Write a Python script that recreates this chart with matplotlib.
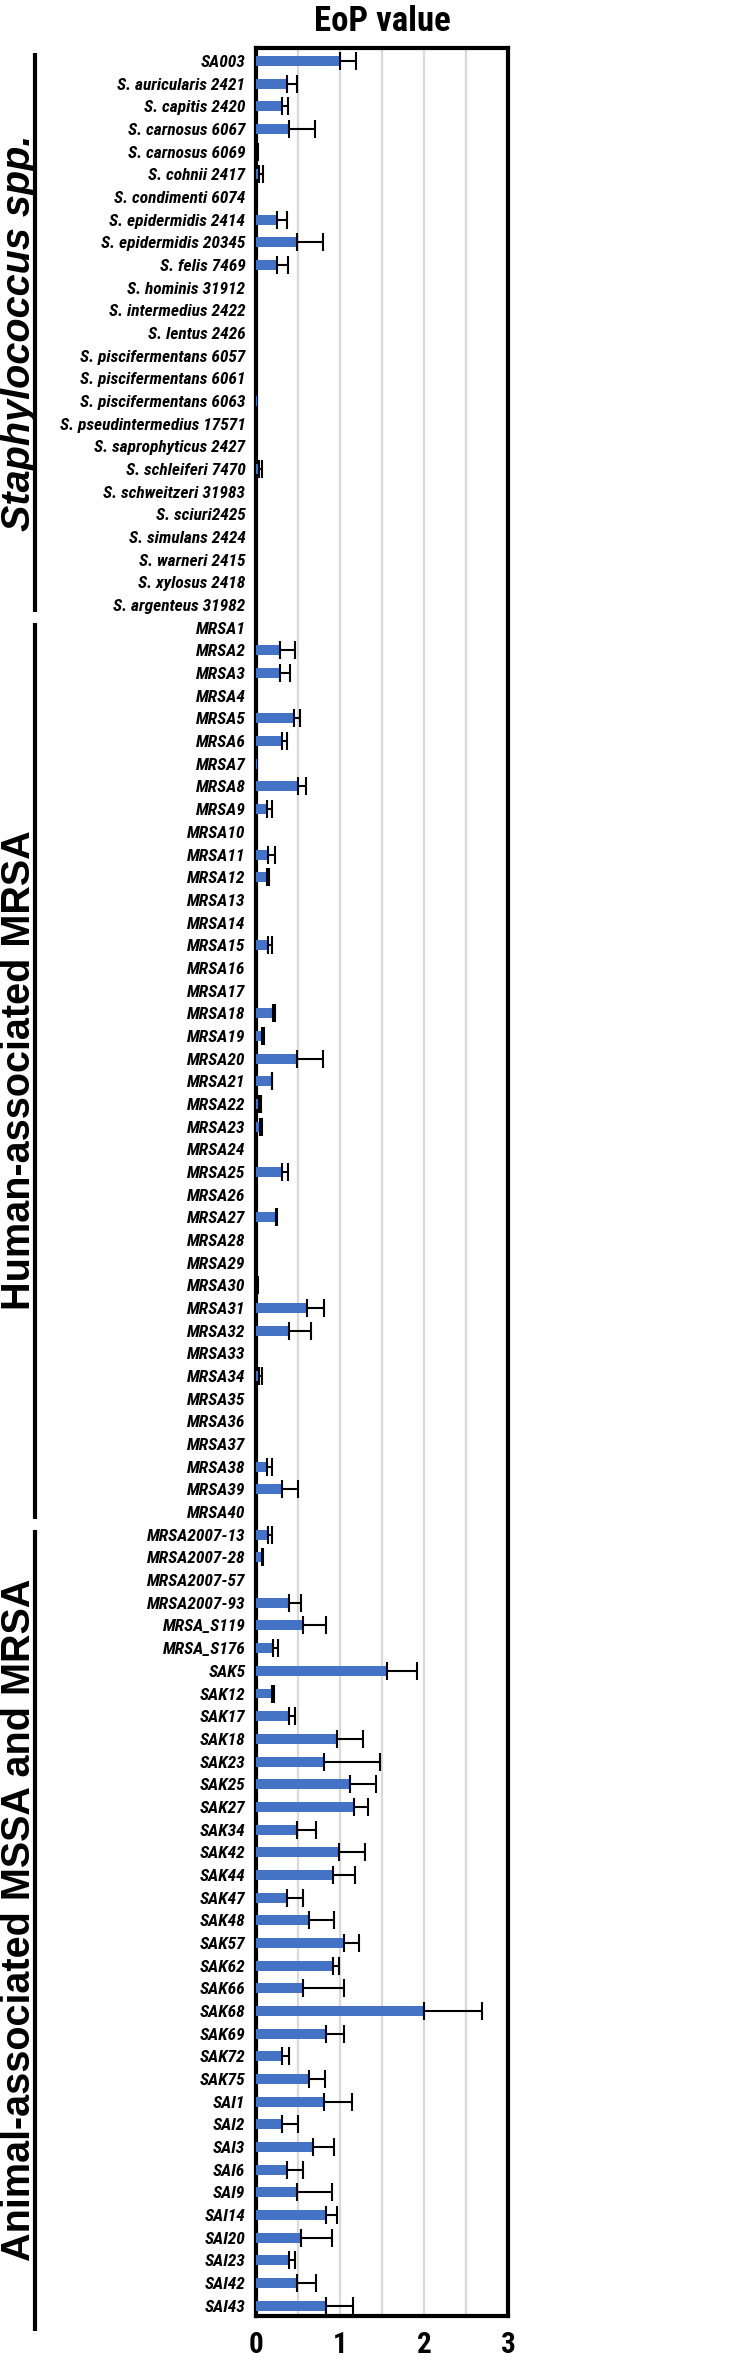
import numpy as np
import matplotlib
matplotlib.use('Agg')
import matplotlib.pyplot as plt
from matplotlib import font_manager as fm
from matplotlib.font_manager import FontProperties
from matplotlib.transforms import blended_transform_factory

staph_strains = ['SA003', 'S. auricularis 2421', 'S. capitis 2420', 'S. carnosus 6067',
                 'S. carnosus 6069', 'S. cohnii 2417', 'S. condimenti 6074',
                 'S. epidermidis 2414', 'S. epidermidis 20345', 'S. felis 7469',
                 'S. hominis 31912', 'S. intermedius 2422', 'S. lentus 2426',
                 'S. piscifermentans 6057', 'S. piscifermentans 6061', 'S. piscifermentans 6063',
                 'S. pseudintermedius 17571', 'S. saprophyticus 2427', 'S. schleiferi 7470',
                 'S. schweitzeri 31983', 'S. sciuri2425', 'S. simulans 2424',
                 'S. warneri 2415', 'S. xylosus 2418', 'S. argenteus 31982']
staph_eop = [1.00, 0.36, 0.31, 0.39, 0.01, 0.03, 0, 0.25, 0.48, 0.25,
             0, 0, 0, 0, 0, 0.01, 0, 0, 0.03, 0, 0, 0, 0, 0, 0]
staph_err = [0.19, 0.12, 0.07, 0.31, 0.01, 0.05, 0, 0.11, 0.31, 0.13,
             0, 0, 0, 0, 0, 0, 0, 0, 0.04, 0, 0, 0, 0, 0, 0]

human_strains = ['MRSA%d' % i for i in range(1, 41)]
human_eop = [0, 0.28, 0.28, 0, 0.45, 0.31, 0.01, 0.49, 0.12, 0,
             0.14, 0.12, 0, 0, 0.14, 0, 0, 0.20, 0.06, 0.48,
             0.18, 0.03, 0.04, 0, 0.31, 0, 0.23, 0, 0, 0.01,
             0.60, 0.39, 0, 0.03, 0, 0, 0, 0.12, 0.31, 0]
human_err = [0, 0.18, 0.12, 0, 0.07, 0.05, 0, 0.10, 0.07, 0,
             0.08, 0.03, 0, 0, 0.05, 0, 0, 0.02, 0.03, 0.31,
             0.01, 0.02, 0.03, 0, 0.06, 0, 0.02, 0, 0, 0.01,
             0.20, 0.26, 0, 0.03, 0, 0, 0, 0.07, 0.19, 0]

animal_strains = ['MRSA2007-13', 'MRSA2007-28', 'MRSA2007-57', 'MRSA2007-93',
                  'MRSA_S119', 'MRSA_S176', 'SAK5', 'SAK12', 'SAK17', 'SAK18',
                  'SAK23', 'SAK25', 'SAK27', 'SAK34', 'SAK42', 'SAK44', 'SAK47',
                  'SAK48', 'SAK57', 'SAK62', 'SAK66', 'SAK68', 'SAK69', 'SAK72',
                  'SAK75', 'SAI1', 'SAI2', 'SAI3', 'SAI6', 'SAI9', 'SAI14',
                  'SAI20', 'SAI23', 'SAI42', 'SAI43']
animal_eop = [0.14, 0.06, 0, 0.39, 0.55, 0.20, 1.56, 0.18, 0.39, 0.96,
              0.80, 1.12, 1.16, 0.48, 0.99, 0.91, 0.36, 0.63, 1.04, 0.91,
              0.55, 2.00, 0.83, 0.31, 0.63, 0.80, 0.31, 0.67, 0.36, 0.48,
              0.83, 0.53, 0.39, 0.48, 0.83]
animal_err = [0.05, 0.02, 0, 0.14, 0.28, 0.06, 0.35, 0.03, 0.07, 0.31,
              0.67, 0.30, 0.17, 0.23, 0.31, 0.26, 0.20, 0.30, 0.18, 0.07,
              0.49, 0.69, 0.21, 0.08, 0.19, 0.34, 0.19, 0.25, 0.20, 0.42,
              0.13, 0.37, 0.07, 0.23, 0.32]

group_names = ['Staphylococcus spp.', 'Human-associated MRSA', 'Animal-associated MSSA and MRSA']
group_italic = [True, False, False]

x_ticks = [0, 1, 2, 3]

strains = staph_strains + human_strains + animal_strains
eop = np.array(staph_eop + human_eop + animal_eop)
err = np.array(staph_err + human_err + animal_err)
group_sizes = [len(staph_strains), len(human_strains), len(animal_strains)]


def has_bold_italic(name):
    for f in fm.fontManager.ttflist:
        if f.name == name and f.style == 'italic':
            w = f.weight if isinstance(f.weight, int) else 700 if 'bold' in str(f.weight) else 400
            if w >= 600:
                return True
    return False


# narrow face for the labels (the reference looks like Arial Narrow)
narrow = 'Liberation Sans'
for cand in ['Liberation Sans Narrow', 'Arial Narrow', 'Roboto Condensed', 'Archivo Narrow',
             'PT Sans Narrow', 'IBM Plex Sans Condensed', 'Fira Sans Condensed']:
    if has_bold_italic(cand):
        narrow = cand
        break
wide = 'Liberation Sans'

fig = plt.figure(figsize=(7.4, 23.62), dpi=100)
renderer = fig.canvas.get_renderer()


def fit_size(text, style, target_px, max_pt):
    fp = FontProperties(family=narrow, weight='bold', style=style, size=20)
    t = fig.text(0, 0, text, fontproperties=fp)
    w = t.get_window_extent(renderer).width
    t.remove()
    return min(20 * target_px / w, max_pt)


lab_size = fit_size('S. pseudintermedius 17571', 'italic', 186, 13.4)
title_size = fit_size('EoP value', 'normal', 138, 25)
tick_size = 21

ax = fig.add_axes([0.3466, 0.0195, 0.3399, 0.9602])

y = np.arange(len(strains))
ax.barh(y, eop, height=0.44, color='#4472C4', zorder=3)
m = err > 0
ax.errorbar(eop[m], y[m], xerr=[np.zeros(m.sum()), err[m]], fmt='none',
            ecolor='black', elinewidth=1.5, capsize=6.8, capthick=1.5, zorder=4)

ax.set_xlim(0, 3)
ax.set_ylim(99.45, -0.57)
ax.set_xticks(x_ticks)
ax.set_xticks([0.5, 1.5, 2.5], minor=True)
ax.grid(True, axis='x', which='both', color='#d9d9d9', linewidth=1.6, zorder=0)
ax.set_axisbelow(True)
ax.set_yticks(y)
ax.set_yticklabels(strains, fontfamily=narrow, fontweight='bold', fontstyle='italic',
                   fontsize=lab_size)
ax.set_xticklabels([str(t) for t in x_ticks], fontfamily=narrow, fontweight='bold',
                   fontsize=tick_size)
ax.tick_params(axis='y', length=0, pad=8)
ax.tick_params(axis='x', which='both', length=0, pad=11)
for s in ax.spines.values():
    s.set_linewidth(3)

ax.set_title('EoP value', fontfamily=narrow, fontweight='bold', fontsize=title_size, pad=12)

# group brackets on the left
tr = blended_transform_factory(fig.transFigure, ax.transData)
start = 0
for i, (name, n) in enumerate(zip(group_names, group_sizes)):
    first, last = start, start + n - 1
    y0 = first - 0.35 if i == 0 else first - 0.2
    y1 = last + 1.1 if i == len(group_sizes) - 1 else last + 0.3
    ax.plot([0.0473, 0.0473], [y0, y1], color='black', linewidth=3, transform=tr,
            clip_on=False, solid_capstyle='butt')
    ax.text(0.0, (first + last) / 2, name, transform=tr, rotation=90,
            ha='left', va='center', fontfamily=wide, fontweight='bold',
            fontstyle='italic' if group_italic[i] else 'normal', fontsize=28.5)
    start += n

fig.savefig('out.png', dpi=100)
